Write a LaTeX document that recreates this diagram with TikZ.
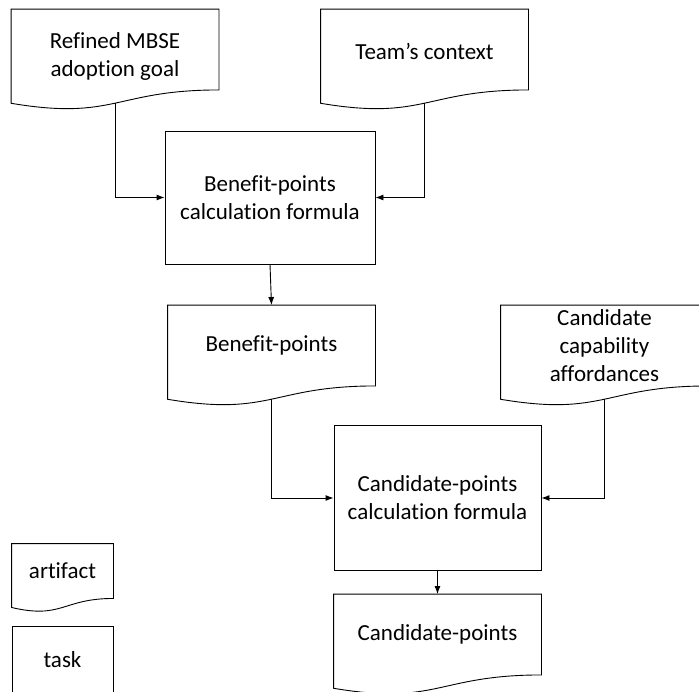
\documentclass[tikz,border=0pt]{standalone}
\usepackage{fontspec}
\setmainfont{Carlito}[Ligatures=NoCommon]
\usetikzlibrary{calc,arrows.meta}

\tikzset{
  artifact/.style={minimum width=207pt, minimum height=80pt, inner sep=0pt, align=center},
  task/.style={draw, minimum width=207pt, inner sep=0pt, align=center},
  flow/.style={-{Latex[length=8pt,width=6pt]}}
}
% outline of an artifact node: flat top, wavy bottom
\newcommand{\artifactshape}[1]{%
  \draw (#1.north west) -- (#1.north east) -- (#1.south east)
    .. controls (#1.south) and ($(#1.north)!1.3815!(#1.south)$)
    .. ($(#1.north west)!1.1646!(#1.south west)$) -- cycle;
  \coordinate (#1-wave) at ($(#1.north)!1.164!(#1.south)$);
}

\begin{document}
\begin{tikzpicture}[x=1pt, y=1pt, line width=0.9pt, font=\fontsize{23}{28}\selectfont]
  \useasboundingbox (0,0) rectangle (699,-691);
  % Nodes
  \node[artifact, text height=58pt] (goal) at (115,-49.5) {Refined MBSE\\adoption goal};
  \node[artifact, text height=20pt] (context) at (424.5,-49.5) {Team’s context};
  \node[task, minimum width=210pt, minimum height=133pt] (bcalc) at (270,-197.5) {Benefit-points\\calculation formula};
  \node[artifact] (bpoints) at (271.5,-345.5) {Benefit-points};
  \node[artifact] (afford) at (604.5,-345.5) {Candidate\\capability\\affordances};
  \node[task, minimum height=145pt] (ccalc) at (437.5,-498) {Candidate-points\\calculation formula};
  \node[artifact] (cpoints) at (437.5,-634.5) {Candidate-points};
  % Legend
  \node[artifact, minimum width=101pt, minimum height=54pt] (legart) at (62.5,-571) {artifact};
  \node[task, minimum width=101pt, minimum height=68pt] (legtask) at (62.5,-660) {task};
  \foreach \n in {goal,context,bpoints,afford,cpoints,legart}{\artifactshape{\n}}

  % Edges
  \draw[flow] (goal-wave) |- (bcalc.west);
  \draw[flow] (context-wave) |- (bcalc.east);
  \draw[flow] (bcalc.south) -- (bpoints.north);
  \draw[flow] (bpoints-wave) |- (ccalc.west);
  \draw[flow] (afford-wave) |- (ccalc.east);
  \draw[flow] (ccalc.south) -- (cpoints.north);
\end{tikzpicture}
\end{document}
